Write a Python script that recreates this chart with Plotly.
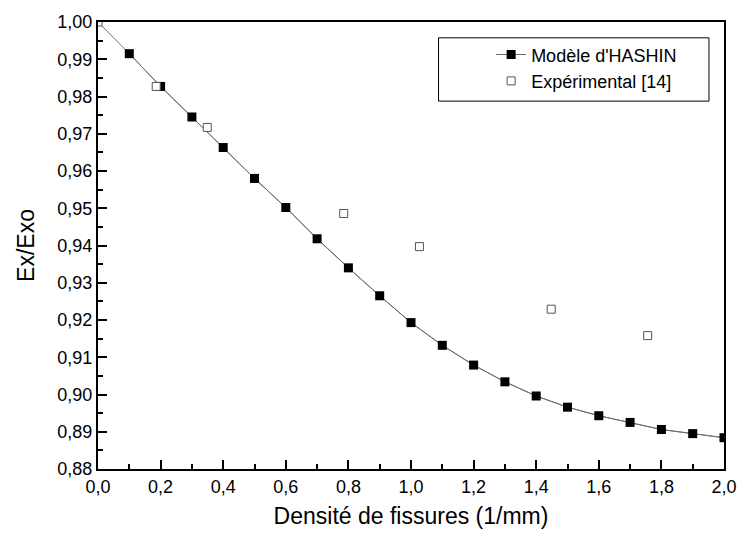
import plotly.graph_objects as go

# Data
hashin_x = [0.0, 0.1, 0.2, 0.3, 0.4, 0.5, 0.6, 0.7, 0.8, 0.9, 1.0,
            1.1, 1.2, 1.3, 1.4, 1.5, 1.6, 1.7, 1.8, 1.9, 2.0]
hashin_y = [1.0000, 0.9915, 0.9827, 0.9745, 0.9663, 0.9580, 0.9502, 0.9418,
            0.9340, 0.9265, 0.9193, 0.9132, 0.9079, 0.9034, 0.8996, 0.8966,
            0.8943, 0.8925, 0.8906, 0.8895, 0.8884]

exp_x = [0.0, 0.186, 0.349, 0.785, 1.027, 1.448, 1.756]
exp_y = [1.0000, 0.9827, 0.9717, 0.9486, 0.9397, 0.9229, 0.9158]

x_ticks = [0.0, 0.2, 0.4, 0.6, 0.8, 1.0, 1.2, 1.4, 1.6, 1.8, 2.0]
x_tick_labels = ["0,0", "0,2", "0,4", "0,6", "0,8", "1,0", "1,2", "1,4", "1,6", "1,8", "2,0"]
y_ticks = [0.88, 0.89, 0.90, 0.91, 0.92, 0.93, 0.94, 0.95, 0.96, 0.97, 0.98, 0.99, 1.00]
y_tick_labels = ["0,88", "0,89", "0,90", "0,91", "0,92", "0,93", "0,94",
                 "0,95", "0,96", "0,97", "0,98", "0,99", "1,00"]

FONT = "Arial, Liberation Sans, sans-serif"

fig = go.Figure()

# model curve (line through all points including origin)
fig.add_trace(go.Scatter(
    x=hashin_x, y=hashin_y, mode="lines",
    line=dict(color="#6e6e6e", width=1),
    showlegend=False, hoverinfo="skip"))

# model markers (origin marker hidden behind axis corner in the reference)
fig.add_trace(go.Scatter(
    x=hashin_x[1:], y=hashin_y[1:], mode="lines+markers",
    name="Modèle d'HASHIN",
    line=dict(color="#6e6e6e", width=1),
    marker=dict(symbol="square", size=9, color="black",
                line=dict(color="black", width=0))))

fig.add_trace(go.Scatter(
    x=exp_x, y=exp_y, mode="markers",
    name="Expérimental [14]",
    marker=dict(symbol="square", size=8, color="white",
                line=dict(color="#555555", width=1))))

axis_common = dict(
    showgrid=False, zeroline=False,
    showline=True, linecolor="black", linewidth=2, mirror=True,
    ticks="inside", ticklen=9, tickwidth=1.5, tickcolor="black",
    tickfont=dict(family=FONT, size=18, color="black"),
)

fig.update_xaxes(
    range=[0, 2.0], tickvals=x_ticks, ticktext=x_tick_labels,
    minor=dict(ticks="inside", ticklen=5, tickwidth=1.5, tickcolor="black", dtick=0.1),
    title=dict(text="Densité de fissures (1/mm)", font=dict(family=FONT, size=23, color="black"),
               standoff=12),
    **axis_common)
fig.update_yaxes(
    range=[0.88, 1.0], tickvals=y_ticks, ticktext=y_tick_labels,
    minor=dict(ticks="inside", ticklen=5, tickwidth=1.5, tickcolor="black", dtick=0.005),
    title=dict(text="Ex/Exo", font=dict(family=FONT, size=23, color="black"),
               standoff=16),
    **axis_common)

fig.update_layout(
    width=749, height=542,
    margin=dict(l=98, r=17, t=17, b=73),
    plot_bgcolor="white", paper_bgcolor="white",
    font=dict(family=FONT, color="black"),
    legend=dict(
        x=0.628, y=0.968, xanchor="left", yanchor="top",
        bgcolor="rgba(0,0,0,0)", borderwidth=0,
        font=dict(family=FONT, size=18, color="black"),
        tracegroupgap=0,
    ),
    shapes=[dict(type="rect", xref="paper", yref="paper",
                 x0=0.544, x1=0.976, y0=0.823, y1=0.9646,
                 line=dict(color="black", width=1), fillcolor="white", layer="below")],
)

fig.write_html("out.html")
